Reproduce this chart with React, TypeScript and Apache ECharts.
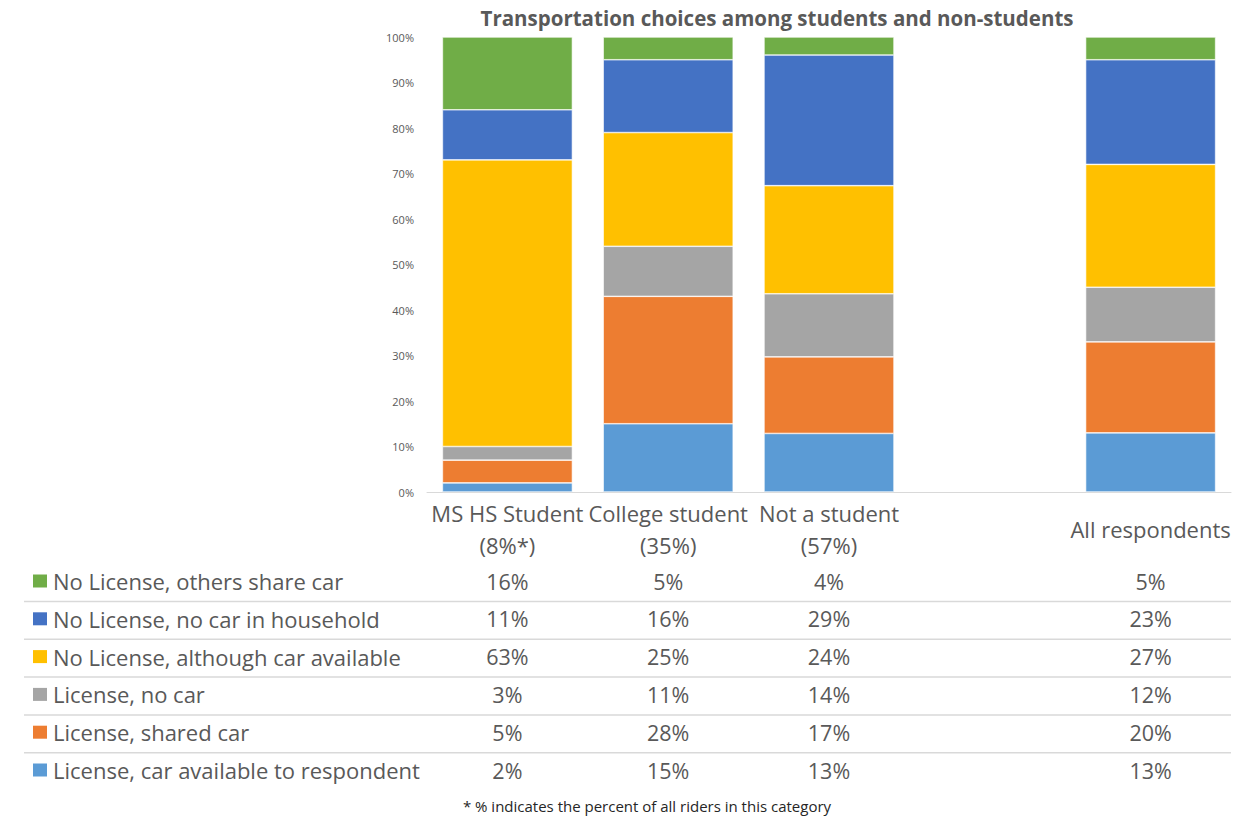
import React, { useEffect, useRef } from "react";
import * as echarts from "echarts";

const categories = ["MS HS Student\n(8%*)", "College student\n(35%)", "Not a student\n(57%)", "", "All respondents"];
const seriesNames = [
  "License, car available to respondent",
  "License, shared car",
  "License, no car",
  "No License, although car available",
  "No License, no car in household",
  "No License, others share car",
];
const colors = ["#5B9BD5", "#ED7D31", "#A5A5A5", "#FFC000", "#4472C4", "#70AD47"];
const licenseCarAvailable = [2, 15, 13, null, 13];
const licenseSharedCar = [5, 28, 17, null, 20];
const licenseNoCar = [3, 11, 14, null, 12];
const noLicenseCarAvailable = [63, 25, 24, null, 27];
const noLicenseNoCar = [11, 16, 29, null, 23];
const noLicenseOthersShare = [16, 5, 4, null, 5];
const seriesValues = [
  licenseCarAvailable,
  licenseSharedCar,
  licenseNoCar,
  noLicenseCarAvailable,
  noLicenseNoCar,
  noLicenseOthersShare,
];
const titleText = "Transportation choices among students and non-students";
const footnote = "* % indicates the percent of all riders in this category";

const FONT = "'Open Sans', sans-serif";
const TXT = "#595959";

export default function App() {
  const ref = useRef<HTMLDivElement>(null);
  useEffect(() => {
    if (!ref.current) return;
    const chart = echarts.init(ref.current, null, { renderer: "svg" });
    const totals = categories.map((_, ci) =>
      seriesValues.reduce((s, arr) => s + (arr[ci] == null ? 0 : (arr[ci] as number)), 0)
    );
    const series = seriesValues.map((arr, si) => ({
      type: "bar",
      name: seriesNames[si],
      stack: "total",
      barWidth: 130,
      itemStyle: { color: colors[si], borderColor: "#ffffff", borderWidth: 0.6 },
      data: arr.map((v, ci) => (v == null ? "-" : (v / totals[ci]) * 100)),
    }));
    chart.setOption({
      animation: false,
      textStyle: { fontFamily: FONT },
      grid: { left: 427, right: 14, top: 37, bottom: 332, containLabel: false },
      xAxis: {
        type: "category",
        data: categories,
        axisLine: { show: true, lineStyle: { color: "#d9d9d9", width: 1 } },
        axisTick: { show: false },
        axisLabel: {
          interval: 0,
          fontSize: 22,
          color: TXT,
          fontFamily: FONT,
          lineHeight: 32,
          verticalAlign: "middle",
          margin: 37,
        },
      },
      yAxis: {
        type: "value",
        min: 0,
        max: 100,
        interval: 10,
        axisLine: { show: false },
        axisTick: { show: false },
        splitLine: { show: false },
        axisLabel: { formatter: "{value}%", fontSize: 11, color: TXT, margin: 13, fontFamily: FONT },
      },
      series,
    });

    const rowY0 = 581;
    const rowStep = 37.8;
    const graphic: any[] = [];
    graphic.push({
      type: "text",
      x: 777,
      y: 18,
      style: { text: titleText, font: `bold 20.5px ${FONT}`, fill: TXT, textAlign: "center", textVerticalAlign: "middle" },
    });
    const rowsOrder = [5, 4, 3, 2, 1, 0];
    rowsOrder.forEach((si, r) => {
      const y = rowY0 + r * rowStep;
      graphic.push({
        type: "rect",
        shape: { x: 33, y: y - 6.5, width: 14, height: 13 },
        style: { fill: colors[si] },
      });
      graphic.push({
        type: "text",
        x: 53,
        y,
        style: { text: seriesNames[si], font: `22px ${FONT}`, fill: TXT, textVerticalAlign: "middle", textAlign: "left" },
      });
      categories.forEach((_, ci) => {
        const v = seriesValues[si][ci];
        if (v == null) return;
        const px = chart.convertToPixel({ xAxisIndex: 0 }, ci) as number;
        graphic.push({
          type: "text",
          x: px,
          y,
          style: { text: `${v}%`, font: `21.5px ${FONT}`, fill: TXT, textAlign: "center", textVerticalAlign: "middle" },
        });
      });
      if (r < 5) {
        graphic.push({
          type: "line",
          shape: { x1: 24, y1: y + 20.5, x2: 1231, y2: y + 20.5 },
          style: { stroke: "#d9d9d9", lineWidth: 1.5 },
        });
      }
    });
    graphic.push({
      type: "text",
      x: 647,
      y: 806,
      style: { text: footnote, font: `15px ${FONT}`, fill: "#262626", textAlign: "center", textVerticalAlign: "middle" },
    });
    chart.setOption({ graphic });
    return () => chart.dispose();
  }, []);
  return <div ref={ref} style={{ position: "fixed", left: 0, top: 0, width: 1245, height: 824, background: "#fff" }} />;
}
